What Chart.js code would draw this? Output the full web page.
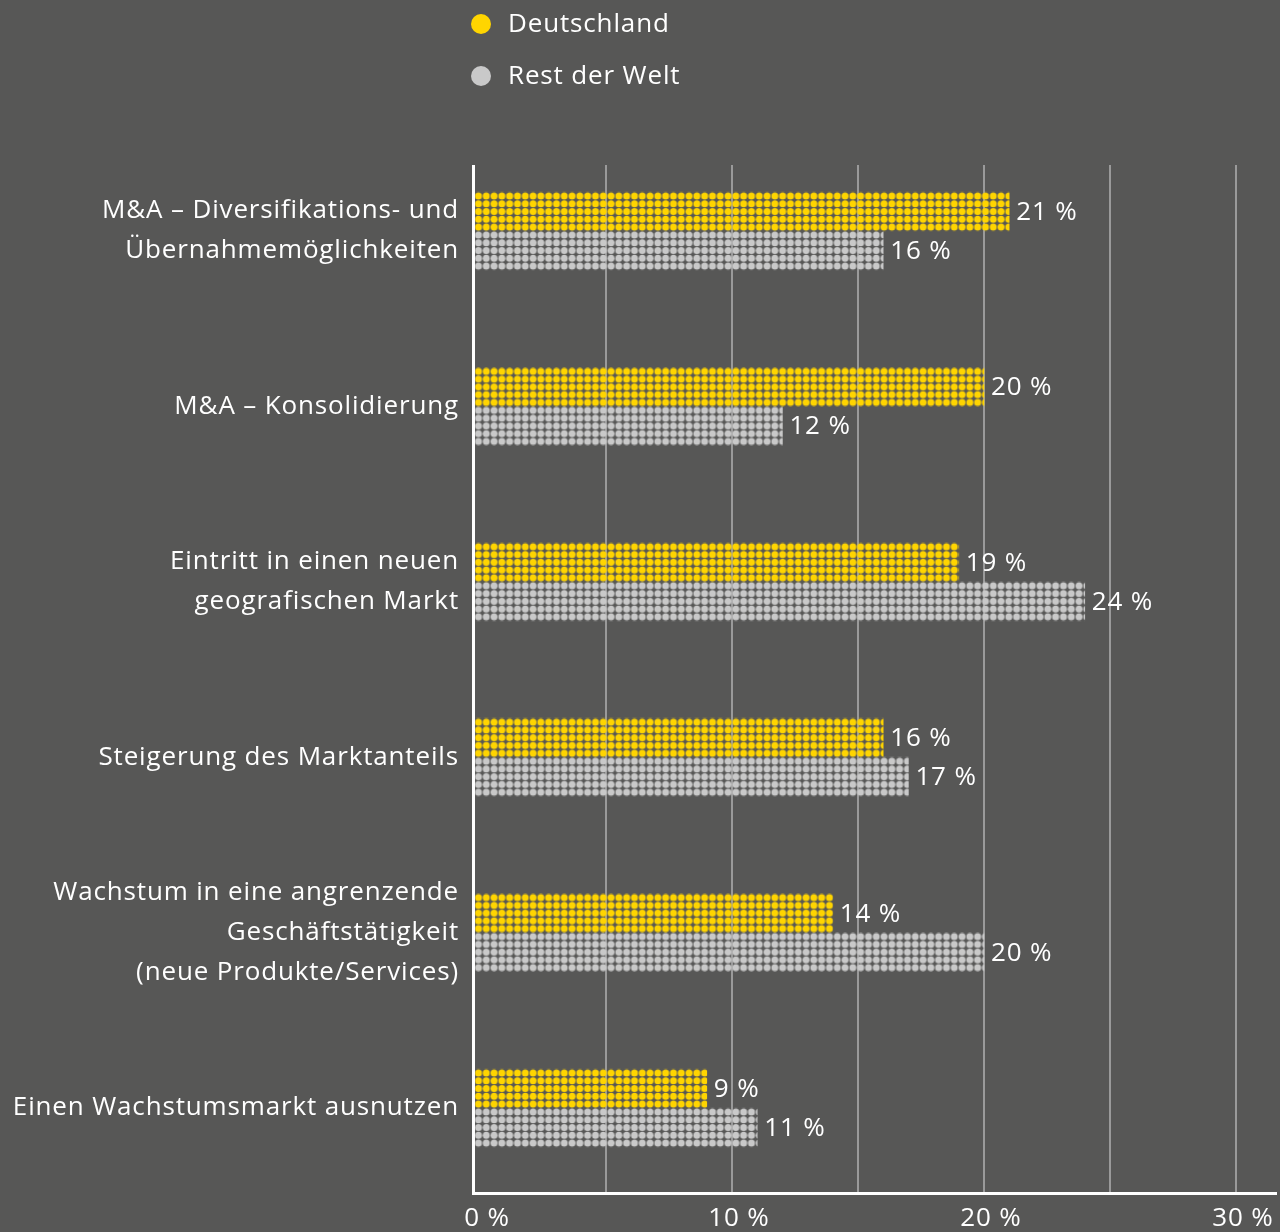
<!DOCTYPE html>
<html lang="de">
<head>
<meta charset="utf-8">
<title>Wachstumsstrategien</title>
<script src="https://cdn.jsdelivr.net/npm/chart.js@4.4.1/dist/chart.umd.min.js"></script>
<style>
  html, body { margin: 0; padding: 0; background: #575756; }
  #wrap { position: relative; width: 1280px; height: 1232px; }
</style>
</head>
<body>
<div id="wrap"><canvas id="chart"></canvas></div>
<script>
// Kategorien (mehrzeilige Beschriftungen) und Werte in Prozent
const categories = [
  ['M&A – Diversifikations- und', 'Übernahmemöglichkeiten'],
  ['M&A – Konsolidierung'],
  ['Eintritt in einen neuen', 'geografischen Markt'],
  ['Steigerung des Marktanteils'],
  ['Wachstum in eine angrenzende', 'Geschäftstätigkeit', '(neue Produkte/Services)'],
  ['Einen Wachstumsmarkt ausnutzen']
];
const seriesNames = ['Deutschland', 'Rest der Welt'];
const deutschland = [21, 20, 19, 16, 14, 9];
const restDerWelt = [16, 12, 24, 17, 20, 11];
const tickValues = [0, 10, 20, 30];
const gridValues = [5, 10, 15, 20, 25, 30];

const YELLOW = '#FFD500';
const GREY = '#C9C9C9';
const FONT = '"Open Sans", Roboto, sans-serif';
const SPACING = '0.85px';

const BAR = 39;       // Balkenhöhe in px
const STEP = BAR / 5; // Punktraster

// Punktraster-Kachel: 5 x 5 Punkte
function makeTile(color) {
  const c = document.createElement('canvas');
  c.width = BAR; c.height = BAR;
  const g = c.getContext('2d');
  g.fillStyle = color;
  for (let i = 0; i < 5; i++) {
    for (let j = 0; j < 5; j++) {
      g.beginPath();
      g.arc(STEP * i + STEP / 2, STEP * j + STEP / 2, 3.5, 0, Math.PI * 2);
      g.fill();
    }
  }
  return c;
}
const tiles = [makeTile(YELLOW), makeTile(GREY)];
const solid = [YELLOW, GREY];

// Muster so verschieben, dass die Punkte an der Balkenkante beginnen
function dotFill(dsIndex) {
  return (ctx) => {
    const chart = ctx.chart;
    const xs = chart.scales.x, ys = chart.scales.y;
    if (!chart.chartArea || !xs || !ys || ctx.type !== 'data') return solid[dsIndex];
    const center = ys.getPixelForValue(ctx.dataIndex);
    const top = dsIndex === 0 ? center - BAR : center;
    const left = xs.getPixelForValue(xs.min);
    const p = chart.ctx.createPattern(tiles[dsIndex], 'repeat');
    p.setTransform(new DOMMatrix().translate(left + 0.5, top));
    return p;
  };
}

const BASE = -0.24;

// Gitterlinien, Achsen, Wertbeschriftungen und Legende
const axesPlugin = {
  id: 'axesLines',
  beforeDraw(chart) {
    chart.ctx.letterSpacing = SPACING;
  },
  beforeDatasetsDraw(chart) {
    const { ctx } = chart;
    const xs = chart.scales.x;
    ctx.save();
    ctx.strokeStyle = '#9a9a9a';
    ctx.lineWidth = 2;
    gridValues.forEach(v => {
      const x = Math.round(xs.getPixelForValue(v));
      ctx.beginPath();
      ctx.moveTo(x, 165);
      ctx.lineTo(x, 1192);
      ctx.stroke();
    });
    ctx.restore();
  },
  afterDatasetsDraw(chart) {
    const { ctx } = chart;
    const xs = chart.scales.x;
    const left = xs.getPixelForValue(xs.min) - 0.5;
    ctx.save();
    ctx.strokeStyle = '#ffffff';
    ctx.lineWidth = 3;
    ctx.beginPath();
    ctx.moveTo(left, 165);
    ctx.lineTo(left, 1193.5);
    ctx.lineTo(chart.chartArea.right, 1193.5);
    ctx.stroke();

    ctx.letterSpacing = SPACING;
    ctx.fillStyle = '#ffffff';
    ctx.font = '26px ' + FONT;
    ctx.textAlign = 'left';
    ctx.textBaseline = 'middle';
    chart.data.datasets.forEach((ds, i) => {
      const meta = chart.getDatasetMeta(i);
      meta.data.forEach((bar, j) => {
        ctx.fillText(ds.data[j] + ' %', bar.x + 7, bar.y + 1);
      });
    });

    chart.data.datasets.forEach((ds, i) => {
      const y = 24 + i * 52;
      ctx.fillStyle = solid[i];
      ctx.beginPath();
      ctx.arc(481, y, 10, 0, Math.PI * 2);
      ctx.fill();
      ctx.fillStyle = '#ffffff';
      ctx.fillText(ds.label, 508, y + 1);
    });
    ctx.restore();
  }
};

new Chart(document.getElementById('chart'), {
  type: 'bar',
  data: {
    labels: categories,
    datasets: [
      { label: seriesNames[0], data: deutschland, backgroundColor: dotFill(0), base: BASE, barThickness: BAR },
      { label: seriesNames[1], data: restDerWelt, backgroundColor: dotFill(1), base: BASE, barThickness: BAR }
    ]
  },
  options: {
    indexAxis: 'y',
    responsive: true,
    maintainAspectRatio: false,
    animation: false,
    events: [],
    layout: { padding: { top: 143.3, right: 3, left: 0, bottom: 0 } },
    plugins: { legend: { display: false }, tooltip: { enabled: false } },
    scales: {
      x: {
        type: 'linear',
        min: BASE,
        max: 31.63,
        grid: { display: false, drawTicks: false },
        border: { display: false },
        afterBuildTicks: (scale) => { scale.ticks = tickValues.map(v => ({ value: v })); },
        afterFit: (scale) => {
          scale.height = 36.3;
          scale.paddingLeft = 0; scale.paddingRight = 0;
          scale.paddingTop = 0; scale.paddingBottom = 0;
        },
        ticks: {
          color: '#ffffff',
          font: { family: FONT, size: 26 },
          padding: 7,
          labelOffset: 7,
          maxRotation: 0,
          autoSkip: false,
          callback: (v) => v + ' %'
        }
      },
      y: {
        grid: { display: false, drawTicks: false },
        border: { display: false },
        afterFit: (scale) => {
          scale.width = 474;
          scale.paddingTop = 0; scale.paddingBottom = 0;
          scale.paddingLeft = 0; scale.paddingRight = 0;
        },
        ticks: {
          color: '#ffffff',
          font: { family: FONT, size: 26, lineHeight: 40 / 26 },
          padding: 15,
          autoSkip: false
        }
      }
    }
  },
  plugins: [axesPlugin]
});
</script>
</body>
</html>
